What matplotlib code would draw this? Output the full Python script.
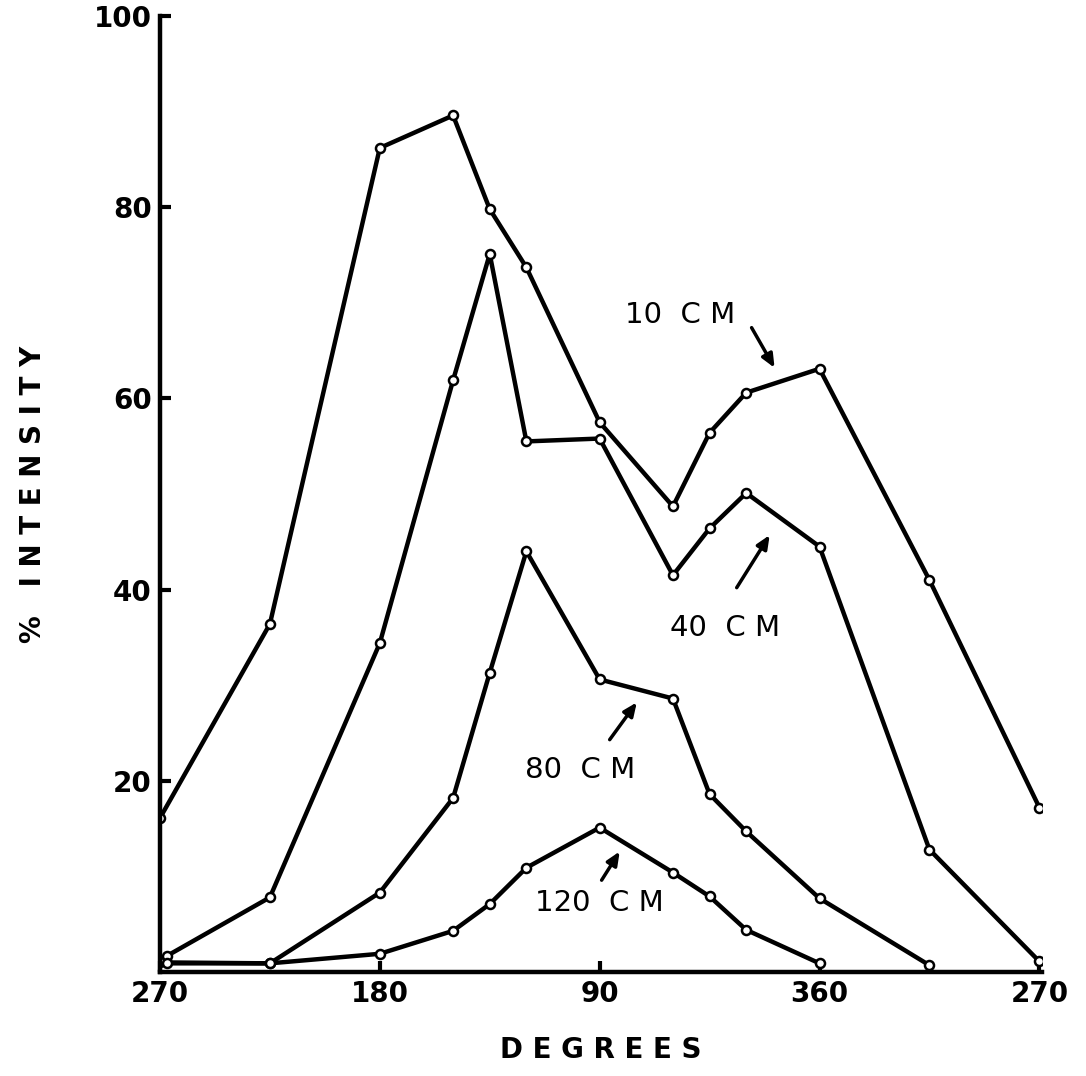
import matplotlib.pyplot as plt

# position along the sweep (0 = 270 deg on the left, 360 = 270 deg on the right)
u_10 = [0, 45, 90, 120, 135, 150, 180, 210, 225, 240, 270, 315, 360]
y_10 = [16.1, 36.4, 86.2, 89.6, 79.8, 73.7, 57.5, 48.7, 56.4, 60.6, 63.1, 41.0, 17.2]

u_40 = [3, 45, 90, 120, 135, 150, 180, 210, 225, 240, 270, 315, 360]
y_40 = [1.7, 7.8, 34.4, 61.9, 75.1, 55.5, 55.8, 41.5, 46.4, 50.1, 44.5, 12.8, 1.1]

u_80 = [0, 45, 90, 120, 135, 150, 180, 210, 225, 240, 270, 315]
y_80 = [1.0, 0.9, 8.3, 18.2, 31.3, 44.0, 30.6, 28.6, 18.6, 14.7, 7.7, 0.7]

u_120 = [3, 45, 90, 120, 135, 150, 180, 210, 225, 240, 270]
y_120 = [0.9, 0.9, 1.9, 4.3, 7.1, 10.9, 15.1, 10.4, 7.9, 4.4, 0.9]

tick_pos = [0, 90, 180, 270, 360]
tick_labels = ['270', '180', '90', '360', '270']
y_ticks = [20, 40, 60, 80, 100]

fig = plt.figure(figsize=(10.86, 10.76), dpi=100)
ax = fig.add_axes([0.1473, 0.0967, 0.812, 0.8884])

for u, y in [(u_10, y_10), (u_40, y_40), (u_80, y_80), (u_120, y_120)]:
    ax.plot(u, y, color='black', lw=3.2, marker='o', ms=6.5,
            mfc='white', mec='black', mew=1.8, solid_joinstyle='round')

ax.set_xlim(0, 361)
ax.set_ylim(0, 100)
for s in ['top', 'right']:
    ax.spines[s].set_visible(False)
for s in ['left', 'bottom']:
    ax.spines[s].set_linewidth(3.2)

ax.set_xticks(tick_pos)
ax.set_xticklabels(tick_labels)
ax.set_yticks(y_ticks)
ax.tick_params(direction='in', length=8, width=3, labelsize=20, pad=6)
for lab in ax.get_xticklabels() + ax.get_yticklabels():
    lab.set_fontweight('bold')

ax.set_xlabel('D E G R E E S', fontsize=20, fontweight='bold', labelpad=20)
ax.set_ylabel('%   I N T E N S I T Y', fontsize=20, fontweight='bold')
ax.yaxis.set_label_coords(-0.128, 0.5)

# curve labels with arrows
labels = ['10  C M', '40  C M', '80  C M', '120  C M']
text_xy = [(212.8, 68.7), (231.2, 36.0), (171.8, 21.1), (180.0, 7.2)]
arrow_tail = [(242.2, 67.4), (236.1, 40.2), (184.1, 24.3), (180.8, 9.6)]
arrow_head = [(251.6, 63.2), (249.6, 45.7), (195.2, 28.2), (188.2, 12.6)]

for lab, txy, tail, head in zip(labels, text_xy, arrow_tail, arrow_head):
    ax.text(txy[0], txy[1], lab, fontsize=21, ha='center', va='center')
    ax.annotate('', xy=head, xytext=tail,
                arrowprops=dict(arrowstyle='-|>,head_length=0.8,head_width=0.35',
                                color='black', lw=2.5, shrinkA=0, shrinkB=0))

fig.savefig('out.png', dpi=100)
